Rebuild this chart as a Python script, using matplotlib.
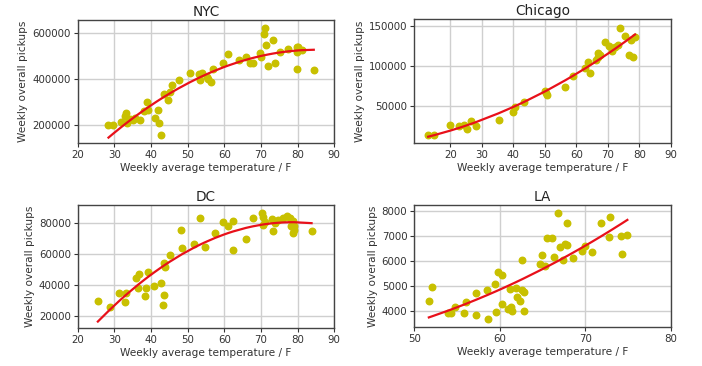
import numpy as np
import matplotlib
matplotlib.use('Agg')
import matplotlib.pyplot as plt

# Weekly average temperature (F) and weekly pickups per city
nyc_temp = [28.4, 29.7, 31.8, 32.9, 33.2, 33.4, 34.3, 35.2, 35.6, 37.0, 38.2, 38.8,
            39.3, 41.2, 42.0, 42.3, 42.7, 43.5, 44.5, 45.2, 45.8, 47.6, 50.6, 53.2,
            53.4, 53.8, 55.4, 55.6, 56.4, 56.8, 59.7, 61.1, 64.0, 65.9, 67.0, 67.9,
            69.7, 70.0, 70.9, 71.1, 71.3, 72.0, 73.4, 73.8, 75.2, 77.4, 79.7, 79.7,
            79.9, 80.2, 81.1, 84.4]
nyc_pickups = [200000, 200000, 213000, 240000, 255000, 209000, 226000, 223000, 230000,
               223000, 264000, 303000, 267000, 231000, 267000, 212000, 156000, 338000,
               310000, 346000, 377000, 398000, 429000, 423000, 397000, 429000, 409000,
               401000, 388000, 445000, 472000, 511000, 485000, 496000, 471000, 471000,
               516000, 496000, 598000, 623000, 548000, 456000, 571000, 472000, 517000,
               532000, 540000, 445000, 521000, 542000, 529000, 442000]

chi_temp = [13.0, 14.9, 20.0, 22.9, 24.4, 25.2, 26.6, 28.1, 35.3, 39.8, 40.5, 43.5,
            50.0, 50.3, 50.6, 56.4, 58.8, 62.7, 63.8, 64.3, 66.2, 66.7, 67.0, 67.5,
            69.1, 70.2, 71.4, 72.3, 73.1, 73.8, 75.4, 76.7, 77.3, 77.9, 78.6]
chi_pickups = [13700, 13700, 25800, 25000, 25800, 21700, 31200, 25000, 32900, 42900,
               48300, 55400, 69100, 66000, 63300, 73800, 87100, 97500, 104600, 91200,
               107900, 111700, 116200, 114100, 130000, 125400, 118300, 123300, 126700,
               147500, 137100, 113300, 132900, 110800, 135800]

dc_temp = [25.5, 28.7, 31.2, 32.8, 33.3, 36.0, 36.6, 36.4, 38.4, 38.7, 39.2, 40.8,
           42.8, 43.5, 43.3, 43.5, 43.7, 45.1, 48.3, 48.5, 51.7, 53.4, 54.6, 57.5,
           59.7, 61.1, 62.3, 62.4, 65.9, 67.7, 70.2, 70.6, 70.6, 71.1, 72.9, 73.3,
           73.8, 74.7, 76.1, 77.0, 77.9, 78.1, 78.8, 79.1, 79.1, 78.8, 83.8]
dc_pickups = [29500, 25800, 34500, 29100, 34500, 44200, 46800, 37700, 32700, 37700,
              48600, 39200, 41000, 33400, 26700, 54400, 51800, 59400, 75600, 64200,
              66300, 83300, 64400, 73500, 81000, 78200, 81700, 62600, 70000, 83200,
              86900, 84300, 78900, 81000, 82600, 75000, 80000, 82200, 83200, 84700,
              83200, 78200, 81700, 78200, 75600, 73500, 75000]

la_temp = [51.7, 52.1, 53.9, 54.3, 54.8, 55.8, 56.0, 57.2, 57.2, 58.5, 58.6, 59.4,
           59.6, 59.8, 60.2, 60.2, 60.9, 61.3, 61.4, 61.2, 61.9, 62.0, 62.4, 62.6,
           62.8, 62.8, 62.6, 64.7, 64.9, 65.3, 65.5, 66.1, 66.3, 66.8, 67.0, 67.4,
           67.6, 67.8, 67.8, 68.5, 69.6, 70.0, 70.8, 71.8, 72.7, 72.9, 74.2, 74.3,
           74.9]
la_pickups = [4388, 4960, 3896, 3896, 4136, 3896, 4360, 3828, 4696, 4828, 3656, 5068,
              3936, 5560, 5428, 4268, 4068, 4160, 3988, 4868, 4888, 4560, 4388, 4828,
              4760, 3988, 6028, 5856, 6240, 5787, 6920, 6920, 6133, 7920, 6560, 6027,
              6653, 6627, 7493, 6120, 6387, 6600, 6333, 7493, 6960, 7733, 6987, 6267,
              7027]

cities = ['NYC', 'Chicago', 'DC', 'LA']
temps = [nyc_temp, chi_temp, dc_temp, la_temp]
pickups = [nyc_pickups, chi_pickups, dc_pickups, la_pickups]

x_limits = [(20, 90), (8.6, 90), (20, 90), (50, 80)]
y_limits = [(121800, 658000), (3300, 158300), (12000, 92100), (3333, 8240)]
x_ticks = [range(20, 91, 10), range(20, 91, 10), range(20, 91, 10), range(50, 81, 10)]
y_ticks = [[200000, 400000, 600000], [50000, 100000, 150000],
           [20000, 40000, 60000, 80000], [4000, 5000, 6000, 7000, 8000]]

W, H = 702, 366
fig = plt.figure(figsize=(W / 100, H / 100), dpi=100)

# axes boxes in pixels: left, top, right, bottom
boxes = [(77.7, 20, 334.3, 143.3), (414.3, 19.3, 671, 143.3),
         (77.7, 204.7, 334.3, 328), (414.3, 204.7, 671, 327.3)]

for i, city in enumerate(cities):
    l, t, r, b = boxes[i]
    ax = fig.add_axes([l / W, 1 - b / H, (r - l) / W, (b - t) / H])

    x = np.array(temps[i])
    y = np.array(pickups[i])

    # quadratic fit through the data
    coef = np.polyfit(x, y, 2)
    xs = np.sort(x)

    ax.grid(True, color='#cfcfcf', linewidth=1)
    ax.set_axisbelow(True)
    ax.scatter(x, y, s=22, color='#c8c000', zorder=2)
    ax.plot(xs, np.polyval(coef, xs), color='#e8101a', linewidth=1.6, zorder=3)

    ax.set_xlim(*x_limits[i])
    ax.set_ylim(*y_limits[i])
    ax.set_xticks(list(x_ticks[i]))
    ax.set_yticks(y_ticks[i])

    ax.set_title(city, fontsize=9.8, color='#222222', pad=3)
    ax.set_xlabel('Weekly average temperature / F', fontsize=7.6, color='#333333',
                  labelpad=2)
    ax.set_ylabel('Weekly overall pickups', fontsize=7.6, color='#333333', labelpad=3)
    ax.tick_params(labelsize=7.4, colors='#333333', length=3, width=0.8, pad=2)
    for s in ax.spines.values():
        s.set_color('#444444')
        s.set_linewidth(1)

fig.savefig('out.png', dpi=100)
